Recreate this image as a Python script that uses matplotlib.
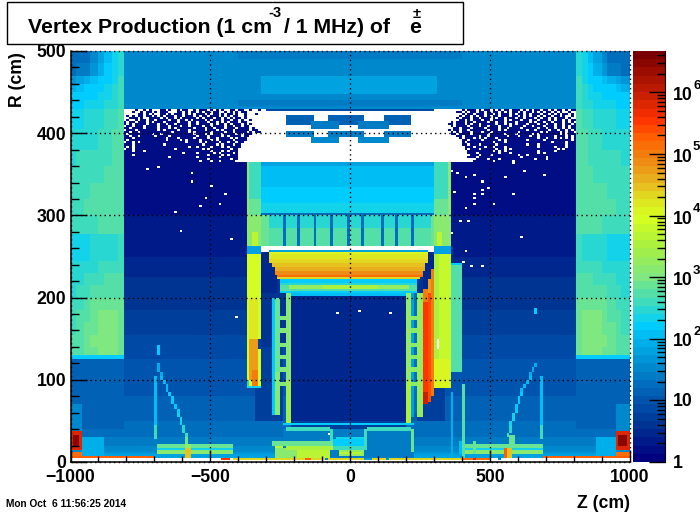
import numpy as np
import matplotlib
matplotlib.use("Agg")
import matplotlib.pyplot as plt
from matplotlib.colors import LinearSegmentedColormap, LogNorm
from matplotlib.patches import Rectangle
from matplotlib.ticker import LogLocator, NullFormatter

plt.rcParams['font.family'] = ['Liberation Sans', 'DejaVu Sans']
plt.rcParams['font.weight'] = 'bold'

# colour scale (log10 of rate, colour)
palette_log = [0, 0.5, 1, 1.5, 2, 2.2, 2.5, 3, 3.5, 4, 4.3, 4.55, 5, 5.3, 5.6, 6, 6.67]
palette_col = ['#000080', '#003090', '#0058b0', '#0088cc', '#00b8f0', '#00d0ff',
               '#30d8c8', '#80e880', '#a8f040', '#d8ff20', '#e0e020', '#e8b820',
               '#f08010', '#ff6000', '#ff3300', '#c82000', '#7a0000']
vmin = 1
vmax = 4.7e6

# rate outside the detector, by R band
bg_r_edges = [5, 8, 10, 12.5, 15, 20, 25, 30, 35, 40, 50, 60, 70, 80, 95, 110, 125, 140,
              155, 170, 185, 200, 225, 250, 275, 300, 365, 430]
bg_values = [70, 55, 45, 38, 32, 26, 22, 20, 18, 16, 14.5, 13, 12, 11, 10, 9, 8, 7,
             6, 5, 4.2, 3.5, 2.8, 2.3, 2, 1.8, 1.7]

# (z0, z1, r0, r1, value) boxes, painted in this order
inner_zones = [
    (-205, 205, 50, 205, 3.3), (-205, 205, 40, 50, 6), (-235, 235, 5, 40, 22),
    (-340, -235, 50, 140, 6), (245, 340, 50, 140, 6),
    (-370, -205, 140, 263, 4), (205, 370, 140, 263, 4),
    (-316, -262, 205, 263, 3), (262, 316, 205, 263, 3),
    (-1000, -810, 40, 126, 12), (810, 1000, 40, 126, 12),
    (-1000, -960, 37, 70, 30), (950, 1000, 37, 70, 30),
    (-960, -880, 5, 30, 80), (880, 950, 5, 30, 80),
]

top_band = [
    (-810, 810, 430, 500, 38), (-810, 810, 490, 500, 32), (-400, 400, 490, 500, 27),
    (-400, 400, 440, 447, 30), (-400, 400, 432.5, 440, 22),
    (-316, 310, 447, 471, 65), (-306, 300, 451, 467, 55),
]

# return yoke, columns run from |Z| = 1000 to 810
shield_z = [1000, 975, 950, 925, 900, 875, 850, 830, 810]
shield_r = [126, 130, 140, 155, 170, 185, 200, 215, 230, 246, 262, 278, 300, 320, 340,
            360, 380, 405, 430, 440, 450, 460, 470, 485, 500]
shield_values = [
    [170, 170, 170, 170, 170, 170, 170, 170],
    [500, 600, 700, 850, 950, 1000, 900, 800],
    [480, 600, 750, 900, 1050, 1100, 1000, 850],
    [450, 560, 700, 850, 1000, 1100, 1000, 850],
    [420, 500, 620, 760, 880, 950, 900, 800],
    [380, 450, 540, 640, 720, 780, 760, 700],
    [340, 400, 460, 520, 580, 620, 620, 600],
    [300, 340, 380, 420, 450, 480, 500, 500],
    [270, 290, 310, 330, 350, 370, 390, 420],
    [230, 240, 250, 260, 270, 290, 320, 380],
    [230, 240, 250, 260, 270, 290, 330, 400],
    [400, 420, 440, 460, 480, 500, 530, 580],
    [420, 450, 480, 500, 520, 550, 580, 620],
    [400, 430, 450, 480, 500, 530, 570, 620],
    [360, 390, 410, 430, 460, 500, 550, 620],
    [320, 350, 370, 390, 420, 460, 520, 600],
    [270, 300, 320, 340, 370, 410, 470, 560],
    [220, 240, 260, 280, 310, 350, 420, 520],
    [170, 180, 190, 200, 220, 260, 330, 450],
    [150, 160, 165, 170, 190, 220, 290, 400],
    [100, 120, 140, 155, 170, 190, 260, 380],
    [50, 60, 80, 110, 140, 170, 240, 360],
    [20, 22, 25, 40, 90, 140, 220, 340],
    [16, 18, 20, 30, 70, 120, 200, 320],
]

barrel = [
    (-316, 316, 360, 365, 60), (-316, 316, 352, 360, 110), (-316, 316, 335, 352, 130),
    (-316, 316, 315, 335, 165), (-316, 316, 302, 315, 190), (-316, 316, 300, 302, 20),
    (-316, 316, 285, 300, 300), (-316, 316, 263, 285, 480),
    (-316, -290, 263, 300, 700), (290, 304, 263, 300, 700),
]
chamber_gaps = [-238, -181, -125, -65, -6, 50, 113, 167, 226]

left_wall = [
    (-368, -316, 320, 365, 450), (-368, -316, 300, 320, 650), (-368, -358, 262, 365, 1300),
    (-358, -316, 262, 300, 1300), (-350, -330, 262, 280, 5000), (-368, -316, 252, 262, 60),
    (-368, -316, 90, 252, 9000), (-355, -328, 150, 200, 17000),
    (-355, -330, 100, 150, 50000), (-345, -330, 92, 112, 110000),
    (-368, -355, 90, 100, 300), (-368, -316, 90, 92, 250),
    (-330, -316, 137, 151, 5),
]
right_wall = [
    (304, 361, 320, 365, 450), (304, 361, 300, 320, 650), (352, 361, 262, 365, 1300),
    (304, 352, 262, 300, 1300), (315, 335, 262, 280, 5000),
    (304, 361, 252, 262, 60), (304, 320, 90, 252, 3500), (320, 361, 90, 252, 7000),
    (304, 361, 90, 125, 12000), (361, 400, 110, 243, 600), (361, 400, 240, 243, 160),
    (307, 315, 137, 151, 30),
    (265, 280, 69, 196, 350000), (280, 294, 72, 222, 220000), (294, 304, 79, 235, 90000),
    (265, 280, 196, 209, 90000), (280, 294, 205, 222, 60000), (265, 285, 69, 85, 900000),
    (315, 322, 137, 151, np.nan),
]

# electromagnetic calorimeter: one row per R band
calo_r = [222.5, 225, 227.5, 232.5, 237.5, 242.5, 247.5, 252.5, 255]
calo_half = [258, 260, 264, 270, 276, 282, 286, 288]
calo_values = [20000, 150000, 75000, 45000, 30000, 20000, 15000, 12000]

tracker = [
    (-250, 240, 217.5, 222, 160), (-250, 240, 214, 217.5, 300), (-250, 240, 207, 214, 600),
    (-215, 215, 210, 214, 1800), (-100, 100, 210, 214, 3000),
    (-250, 240, 205, 207, 160), (-205, 205, 202.5, 205, 110),
]
pillars = [
    (-232, -214, 55, 205, 1300), (-232, -214, 47, 100, 2500), (-214, -205, 55, 205, 170),
    (-276, -268, 58, 200, 170), (-268, -250, 58, 200, 800), (-268, -250, 58, 110, 1500),
    (203, 224, 55, 205, 1600), (203, 224, 47, 100, 3500), (224, 232, 55, 205, 60),
    (245, 262, 55, 205, 2000), (232, 245, 60, 205, 20),
]
rung_r = [175.5, 159, 142, 127, 112, 94.5]

# central field cage boxes above the barrel
cage = [
    (-232, -125, 409, 422, 12), (-75, 50, 409, 422, 12), (125, 224, 409, 422, 12),
    (-232, -125, 394, 402, 25), (-75, 50, 394, 402, 25), (125, 224, 394, 402, 25),
    (-143, -36, 404, 416, 25), (26, 136, 404, 416, 25),
    (-143, -36, 388, 394, 30), (26, 136, 388, 394, 30),
]

# beam line and the things next to it
left_pipe = [
    (-694, -418, 18, 22, 800), (-694, -418, 14, 18, 200), (-694, -418, 10, 14, 1200),
    (-594, -570, 5, 18, 30000), (-590, -575, 22, 33, 700), (-594, -570, 18, 22, 2000),
    (-700, -690, 27, 106, 120), (-700, -690, 27, 45, 400), (-690, -684, 131, 142, 170),
    (-420, -415, 5, 94, 100), (-382, -377, 5, 84, 500), (-414, -408, 10, 25, 120),
    (-1000, -960, 6, 12, 150000), (-1000, -960, 15, 37.5, 600000),
    (-990, -965, 20, 33, 3000000), (-1000, -700, 5, 7.5, 200000),
    (-784, -776, 2.5, 7.5, 30), (-462, -430, 2.5, 5, 400000), (-415, -405, 2.5, 5, 300000),
]
right_pipe = [
    (388, 686, 18, 22, 800), (388, 686, 14, 18, 200), (388, 686, 10, 14, 1200),
    (555, 565, 5, 18, 200000), (565, 578, 5, 18, 30000), (574, 590, 22, 33, 700),
    (680, 690, 27, 106, 120), (680, 690, 27, 45, 400), (664, 672, 180, 187, 170),
    (365, 370, 5, 84, 100), (405, 410, 5, 94, 500), (388, 398, 10, 25, 130),
    (440, 450, 10, 25, 800),
    (952, 1000, 6, 12, 150000), (952, 1000, 15, 37.5, 600000),
    (960, 995, 20, 33, 3000000), (690, 1000, 5, 7.5, 200000),
    (530, 545, 2.5, 7.5, 30), (400, 500, 2.5, 5, 150000), (440, 450, 2.5, 5, 600000),
]
centre_pipe = [
    (-235, 235, 45, 47.5, 170), (-232, -65, 38, 42, 450), (60, 225, 38, 42, 450),
    (-232, -226, 12, 40, 800), (222, 226, 12, 40, 800), (-65, -59, 15, 40, 350), (55, 62, 15, 40, 350),
    (-59, 55, 20, 28, 170), (-52, 48, 28, 30, 250), (-48, 44, 24, 26, 300),
    (-280, -60, 21, 24, 700), (-270, -240, 17, 21, 5000), (-270, -170, 12, 17, 1300),
    (-230, -60, 16, 21, 3500), (-190, -70, 6, 16, 5000), (-270, -190, 6, 12, 1200),
    (-60, 60, 14, 20, 400), (-40, 50, 8, 14, 1800), (-40, 40, 10, 12, 5000),
    (-420, 400, 2.5, 5, 20000), (-160, -140, 2.5, 5, 200000),
    (-85, -75, 2.5, 5, 30), (50, 80, 2.5, 5, 40), (135, 145, 2.5, 5, 50),
]

# funnel shaped cone on both sides: R, then Z at that R
cone_r = [120, 115, 110, 105, 100, 95, 90, 85, 80, 75, 70, 65, 60, 55, 50, 45, 40, 35, 30]
left_cone_z = [-691, -686, -680, -675, -670, -663, -655, -648, -642, -636, -630, -624,
               -618, -612, -606, -600, -595, -589]
right_cone_z = [673, 664, 655, 647, 640, 632, 625, 618, 612, 606, 600, 596,
                592, 588, 585, 581, 578, 575]
cone_values = [100, 100, 100, 105, 110, 120, 130, 140, 150, 160, 170, 185,
               200, 225, 250, 275, 300, 400]

# empty bins in the sparse corners, '#' has counts and '.' is empty
left_map_z0 = -810
left_map = [
    "....#..#.#...##.#..#.##..#.###.#.#.#..##.##..#..#",
    "...#..#.##.#.###...##.#.##.#.##.##..#.#.#.##.....",
    ".....##.#.#..##.#.###.#.#.###.#.##.#.##.#..#...#.",
    ".#.#.##.##.#.#.###.##.###.#.##.###.#.#.##..#.....",
    "..###.#..####.#.##.#.#####.#.###.##.#.#.##.#.....",
    ".#..#.##.##.####.##.##.#.####.#.###.##.##.#..#...",
    "#.##.###.#.###.####.###.##.###.##.#.#.###.##.....",
    "#.#.####.###.##.##.####.##.####.#.##.#.###.#.#...",
    ".##.###.####.###.###.##.####.##.####.##.##.##....",
    "##.####.####.###.#.######.###.##.###.###.####.#..",
    ".###.#######.#.####.###.#####.###.#.###.#####.##.",
    "##.##.###########.#####.#.#####.####.##.####.#.##",
    "#.########.##.###########.###.#.###.####.#.###...",
    "##.##.#####.####.#########.###.####.#.####.##....",
    "###.###########.###.#####.####.##.####.#.###.....",
    "#.#############.####.#.####.###.#.#####.####.....",
    ".##.#.################.####.#.####.##.##.##......",
    "###.##########.#############.####.#.###.##.......",
    "#.#.###################.##.####.###.#.####........",
    ".##.##############.#########.#.#######.##........",
    "###.###.#######################.###.#.###.........",
    "#####################.####.#####.#.####.#.........",
    "###.##########################.####.#.###.........",
    "################.#########.#######.######.........",
    "##############################.#######.##.........",
    "###########################.###.##.#####..........",
]
right_map_z0 = 290
right_map = [
    "...........#.###.#.##.#.#.##.###.#.#.##.##.#.##.#.##.",
    ".........##.#.##.##.#.##.#.#.##.#.##.#.#.##.#.#..#..",
    "...........#.##.###.##.#.###.#.##.#.###.##.#.#.##.#.",
    "..........#.##.#.##.#.##.###.##.#.#.##.#.##.##.#..#.",
    ".........#.###.##.###.#.##.###.##.###.#.##.#.###.#..",
    "..........##.#.###.##.####.#.###.##.##.###.#.##.#.##",
    ".......#.###.##.####.##.##.###.####.#.##.##.###.#.#.",
    "......##.###.#.##.#####.##.#.#.###.###.##.##.##.##.#",
    ".......#.####.###.##.###.###.####.##.###.###.##.#.##",
    "........##.###.####.####.##.####.#####.##.##.##.#.##",
    "......#.##.##.######.###.#.#######.##.####.##.##.#.#",
    ".......#.#.###.###.##.#########.#######.#.####.#.##.",
    ".......##.####.#####.#####.###.#####.#.#######.#.###",
    ".........##.#####.##.######.###.###.##.#####.###.#.#",
    "..........#.###.#.#.###.##############.##.##.#.#.#.#",
    "...........##.####.#####.#.#######.#####.#########.#",
    "...........#.#########.###.################.####.###",
    "...........##.###.#####.##########.###.#########.###",
    "............###.###.##.###.###########.#####.###.###",
    "............#.###.#####.##.#.################.#.#####",
    ".............#########.#.#.###########.#####.#######",
    ".............###.#######.###.#########.#.###########",
    "..............###.###.#########.##.#################",
    ".............###.###############.########.##########",
    "................####.###.############.###.##########",
    "...............#######.######.######################",
]
map_r_top = 430

# single empty bins further down
speck_z = [-405, -42, 33, 147, 439, 471, 405, 620, -626, -537, -608, -423, -460, -727, -680,
           -566, -560, -490, -510, -445, 364, 387, 417, 441, 471, 447, 477, 471, 441, 447,
           519, 498, 375, 411, 584, 560, 584, 692, 626, 394, 430, 370, 411, -250, -120, 60, -70]
speck_r = [177, 181, 183, 181, 240, 240, 245, 274, 304, 312, 282, 272, 314, 356, 359,
           351, 341, 337, 322, 326, 353, 351, 347, 349, 341, 327, 326, 331, 321, 313,
           313, 333, 329, 309, 327, 347, 363, 349, 355, 294, 294, 278, 256, 260, 258, 259, 35]

x_major = [-1000, -500, 0, 500, 1000]
x_labels = ['\u22121000', '\u2212500', '0', '500', '1000']
y_major = [0, 100, 200, 300, 400, 500]
cbar_exponents = [2, 3, 4, 5, 6]

z_edges = np.linspace(-1000, 1000, 201)
r_edges = np.linspace(0, 500, 201)
z_mid = (z_edges[:-1] + z_edges[1:]) / 2
r_mid = (r_edges[:-1] + r_edges[1:]) / 2
grid = np.full((200, 200), np.nan)


def paint(z0, z1, r0, r1, value):
    iz = (z_mid >= z0) & (z_mid < z1)
    ir = (r_mid >= r0) & (r_mid < r1)
    grid[np.ix_(ir, iz)] = value


def paint_list(boxes):
    for box in boxes:
        paint(*box)


def paint_map(rows, z0):
    for i, row in enumerate(rows):
        for j, c in enumerate(row):
            if c == '#':
                paint(z0 + j * 10, z0 + (j + 1) * 10,
                      map_r_top - (i + 1) * 2.5, map_r_top - i * 2.5, 1.7)


for i, val in enumerate(bg_values):
    paint(-1000, 1000, bg_r_edges[i], bg_r_edges[i + 1], val)
paint_list(inner_zones)

# sparse corners: everything empty first, the map puts the counts back
paint(-810, 810, 365, 430, np.nan)
paint_map(left_map, left_map_z0)
paint_map(right_map, right_map_z0)

paint_list(top_band)
paint(-300, 300, 427.5, 430, 8)
for i, row in enumerate(shield_values):
    for j, val in enumerate(row):
        paint(-shield_z[j], -shield_z[j + 1], shield_r[i], shield_r[i + 1], val)
        paint(shield_z[j + 1], shield_z[j], shield_r[i], shield_r[i + 1], val)

paint_list(barrel)
for gap in chamber_gaps:
    paint(gap - 5, gap + 5, 263, 300, 18)
paint(-316, 316, 256.25, 263, np.nan)
paint(-293, 283, 255, 257.5, 60)
paint_list(left_wall)
paint_list(right_wall)
for i, val in enumerate(calo_values):
    paint(-calo_half[i] - 3, calo_half[i] - 3, calo_r[i], calo_r[i + 1], val)
paint_list(tracker)
paint_list(pillars)
for r in rung_r:
    paint(-250, -232, r - 2.5, r + 2.5, 1000)
    paint(224, 245, r - 2.5, r + 2.5, 1300)
paint_list(cage)
paint_list(left_pipe)
paint_list(right_pipe)
paint_list(centre_pipe)
for i in range(len(cone_r) - 1):
    paint(left_cone_z[i], left_cone_z[i] + 10, cone_r[i + 1], cone_r[i], cone_values[i])
    paint(right_cone_z[i] - 10, right_cone_z[i], cone_r[i + 1], cone_r[i], cone_values[i])
for z, r in zip(speck_z, speck_r):
    paint(z - 5, z + 5, r - 1.25, r + 1.25, np.nan)

stops = [(v - palette_log[0]) / (palette_log[-1] - palette_log[0]) for v in palette_log]
cmap = LinearSegmentedColormap.from_list('root', list(zip(stops, palette_col)), N=50)
cmap.set_bad('white')

fig = plt.figure(figsize=(7.0, 5.14), dpi=100)
ax = fig.add_axes([70.5 / 700, 52 / 514, 559 / 700, 411 / 514])
cax = fig.add_axes([633 / 700, 52 / 514, 32 / 700, 411 / 514])

mesh = ax.pcolormesh(z_edges, r_edges, np.ma.masked_invalid(grid), cmap=cmap,
                     norm=LogNorm(vmin=vmin, vmax=vmax), rasterized=True)
ax.set_xlim(-1000, 1000)
ax.set_ylim(0, 500)
ax.set_xticks(x_major)
ax.set_xticklabels(x_labels)
ax.set_yticks(y_major)
ax.set_xticks(np.arange(-1000, 1001, 100), minor=True)
ax.set_yticks(np.arange(0, 501, 20), minor=True)
ax.tick_params(axis='x', which='major', direction='in', length=8.6, width=1, labelsize=12.7, pad=5)
ax.tick_params(axis='x', which='minor', direction='in', length=4.3, width=1)
ax.tick_params(axis='y', which='major', direction='in', length=11.5, width=1, labelsize=12.7, pad=3)
ax.tick_params(axis='y', which='minor', direction='in', length=5.8, width=1)
ax.spines['top'].set_visible(False)
ax.spines['right'].set_visible(False)
ax.spines['left'].set_linewidth(1.1)
ax.spines['bottom'].set_linewidth(1.1)
ax.set_axisbelow(False)
ax.grid(True, which='major', color='black', linestyle=(0, (1, 2.4)), linewidth=1)
for line in ax.get_xgridlines() + ax.get_ygridlines():
    line.set_clip_on(False)

cbar = fig.colorbar(mesh, cax=cax)
cbar.outline.set_visible(False)
cax.spines['right'].set_visible(True)
cax.yaxis.set_ticks_position('right')
cax.yaxis.set_major_locator(LogLocator(base=10, numticks=10))
cax.yaxis.set_minor_locator(LogLocator(base=10, subs=range(2, 10), numticks=10))
cax.yaxis.set_major_formatter(NullFormatter())
cax.yaxis.set_minor_formatter(NullFormatter())
cax.tick_params(which='major', direction='in', length=11.5, width=1)
cax.tick_params(which='minor', direction='in', length=5.8, width=1)


def px_text(x, y, s, size=12.7, **kw):
    fig.text(x / 700, 1 - y / 514, s, fontsize=size, fontweight='bold', **kw)


# colour bar labels sit next to the bar
cax_y = lambda v: 462 - 61.5 * v
px_text(678, cax_y(0) + 1, '1', ha='center', va='center')
px_text(673, cax_y(1) + 1, '10', ha='left', va='center')
for e in cbar_exponents:
    px_text(673, cax_y(e) + 3, '10', ha='left', va='center')
    px_text(693, cax_y(e) - 7, str(e), size=9.5, ha='left', va='center')

fig.add_artist(Rectangle((7 / 700, 1 - 44 / 514), 456 / 700, 42 / 514, fill=False,
                         edgecolor='black', linewidth=1, transform=fig.transFigure))
px_text(28, 33, 'Vertex Production (1 cm', size=15.3, ha='left', va='baseline')
px_text(268, 17, '-3', size=10.5, ha='left', va='baseline')
px_text(284, 33, '/ 1 MHz) of', size=15.3, ha='left', va='baseline')
px_text(409, 33, 'e', size=15.3, ha='left', va='baseline')
px_text(413, 18, '\u00b1', size=10.5, ha='left', va='baseline')
px_text(630, 503, 'Z (cm)', ha='right', va='center')
px_text(18, 52, 'R (cm)', rotation=90, ha='center', va='top')
px_text(6, 504, 'Mon Oct  6 11:56:25 2014', size=7.3, ha='left', va='center')

fig.savefig('out.png', dpi=100)
